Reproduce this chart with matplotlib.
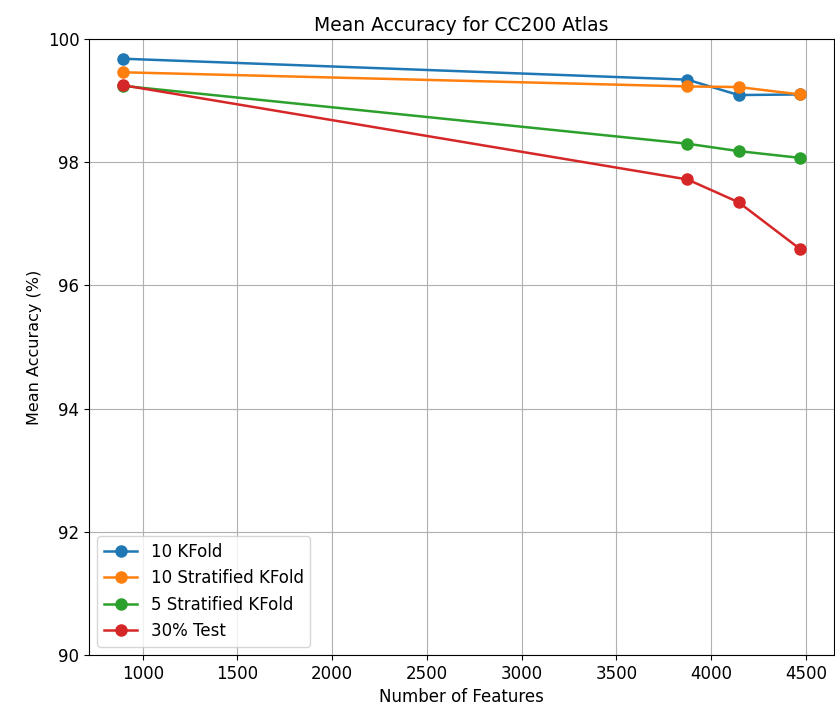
import matplotlib
matplotlib.use("Agg")
import matplotlib.pyplot as plt

features = [895, 3875, 4145, 4470]
kfold_10 = [99.68, 99.34, 99.09, 99.10]
strat_10 = [99.46, 99.23, 99.22, 99.10]
strat_5 = [99.24, 98.30, 98.18, 98.07]
test_30 = [99.25, 97.72, 97.35, 96.59]

series = [
    ("10 KFold", kfold_10),
    ("10 Stratified KFold", strat_10),
    ("5 Stratified KFold", strat_5),
    ("30% Test", test_30),
]

fig = plt.figure(figsize=(8.35, 7.13), dpi=100)
ax = fig.add_axes([89 / 835, 1 - 655 / 713, (834 - 89) / 835, (655 - 39) / 713])

for name, vals in series:
    ax.plot(features, vals, marker="o", markersize=8, linewidth=1.8, label=name)

ax.set_ylim(90, 100)
ax.set_xticks([1000, 1500, 2000, 2500, 3000, 3500, 4000, 4500])
ax.set_yticks([90, 92, 94, 96, 98, 100])
ax.grid(True)
ax.tick_params(labelsize=12)
ax.set_title("Mean Accuracy for CC200 Atlas", fontsize=13.5)
ax.set_xlabel("Number of Features", fontsize=12)
ax.set_ylabel("Mean Accuracy (%)", fontsize=11.5)
ax.legend(loc="lower left", fontsize=12)

fig.savefig("out.png", dpi=100)
